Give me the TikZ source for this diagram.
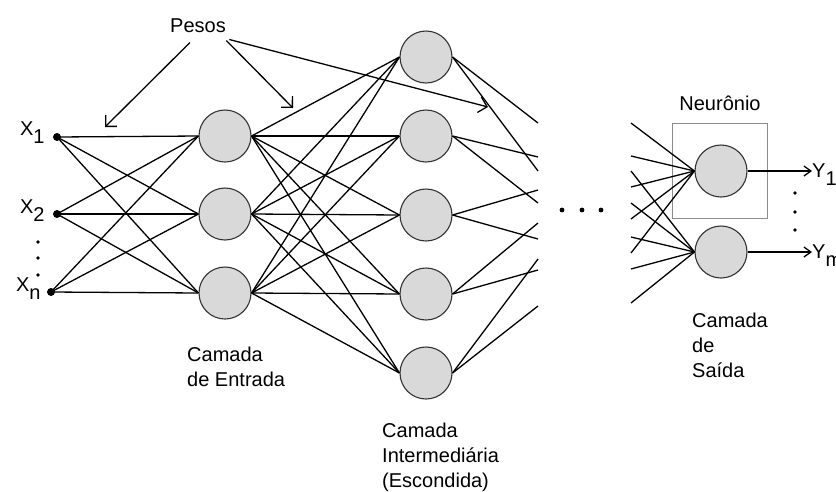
\documentclass[tikz,border=0pt]{standalone}
\usepackage{fontspec}
\setmainfont{Liberation Sans}
\usetikzlibrary{arrows.meta, positioning}

\newcommand{\diagfont}{\fontsize{20}{25}\selectfont}
\newcommand{\lowsub}[1]{\raisebox{-0.42em}{#1}}

\begin{document}
\begin{tikzpicture}[x=1pt, y=-1pt]
	\tikzset{neuron/.style = {shape=circle, draw=black!80, fill=gray!30, minimum size=52pt, inner sep=0pt, line width=1.1pt}}
	\tikzset{inputdot/.style = {shape=circle, fill=black, minimum size=8pt, inner sep=0pt}}
	\tikzset{neuronbox/.style = {shape=rectangle, draw=black!45, line width=1.1pt, minimum size=95pt, inner sep=0pt}}
	\tikzset{link/.style = {line width=1.3pt}}
	\tikzset{weight/.style = {line width=1.3pt, -{Straight Barb[length=8pt, width=16pt]}}}
	\tikzset{outarrow/.style = {line width=1.3pt, -{Straight Barb[length=7pt, width=10pt]}}}
	\tikzset{caption/.style = {font=\diagfont, align=left, anchor=north west, inner sep=0pt}}
	\tikzset{xlabel/.style = {font=\diagfont, inner sep=1pt}}

	\useasboundingbox (0,0) rectangle (836,491);
	\fill[white] (0,0) rectangle (836,491);

	% entradas
	\node[inputdot] (x1) at (57,137) {};
	\node[inputdot] (x2) at (57,214) {};
	\node[inputdot] (xn) at (51,292) {};
	\node[xlabel, base left=7pt of x1, yshift=2pt] {X\lowsub{1}};
	\node[xlabel, base left=7pt of x2, yshift=1pt] {X\lowsub{2}};
	\node[xlabel, base left=5pt of xn, yshift=1pt] {X\lowsub{n}};
	\foreach \y in {242,258,275} \fill (38,\y) circle (1.8);

	% camadas
	\node[neuron] (e1) at (225,136) {};
	\node[neuron] (e2) at (225,214) {};
	\node[neuron] (e3) at (225,293) {};

	\node[neuron] (h1) at (426,57) {};
	\node[neuron] (h2) at (426,136) {};
	\node[neuron] (h3) at (426,215) {};
	\node[neuron] (h4) at (426,294) {};
	\node[neuron] (h5) at (426,373) {};

	\node[neuronbox] (box) at (720,171) {};
	\node[neuron] (s1) at (721,171) {};
	\node[neuron] (s2) at (721,252) {};
	\node[font=\diagfont, above=9pt of box] (neuronio) {Neurônio};

	% conexoes
	\foreach \i in {x1,x2,xn}
		\foreach \j in {e1,e2,e3}
			\draw[link] (\i.center) -- (\j.west);
	\foreach \i in {e1,e2,e3}
		\foreach \j in {h1,h2,h3,h4,h5}
			\draw[link] (\i.east) -- (\j.west);

	\foreach \i/\a/\b in {1/123/171, 2/157/203, 3/190/239, 4/223/270, 5/259/306} {
		\coordinate (ha\i) at (538,\a);
		\coordinate (hb\i) at (538,\b);
		\draw[link] (h\i.east) -- (ha\i);
		\draw[link] (h\i.east) -- (hb\i);
	}

	\foreach \k/\a/\b in {1/123/171, 2/156/203, 3/187/237, 4/219/269, 5/253/303} {
		\coordinate (sa\k) at (631,\a);
		\coordinate (sb\k) at (631,\b);
		\draw[link] (sa\k) -- (s1.west);
		\draw[link] (sb\k) -- (s2.west);
	}

	\foreach \x in {562,582,601} \fill (\x,210) circle (2.4);

	% saidas
	\coordinate (y1) at (812,171);
	\coordinate (ym) at (812,252);
	\draw[outarrow] (s1.east) -- (y1);
	\draw[outarrow] (s2.east) -- (ym);
	\node[xlabel, inner sep=0pt, anchor=base west, yshift=-6pt] at (y1) {Y\lowsub{1}};
	\node[xlabel, inner sep=0pt, anchor=base west, yshift=-6pt] at (ym) {Y\lowsub{m}};
	\foreach \y in {193,212,230} \fill (795,\y) circle (1.8);

	% pesos
	\node[font=\diagfont] (pesos) at (198,26) {Pesos};
	\coordinate (w1) at (105,127);
	\coordinate (w2) at (293,108);
	\coordinate (w3) at (488,107);
	\draw[weight] ([xshift=-8pt, yshift=-6pt]pesos.south) -- (w1);
	\draw[weight] ([xshift=-3pt, yshift=-4pt]pesos.south east) -- (w2);
	\draw[weight] ([yshift=-3pt]pesos.south east) -- (w3);

	% legendas
	\node[caption] (entrada) at (187,347) {Camada\\de Entrada};
	\node[caption] (oculta) at (382,423) {Camada\\Intermediária\\(Escondida)};
	\node[caption] (saida) at (692,313) {Camada\\de\\Saída};
\end{tikzpicture}
\end{document}
